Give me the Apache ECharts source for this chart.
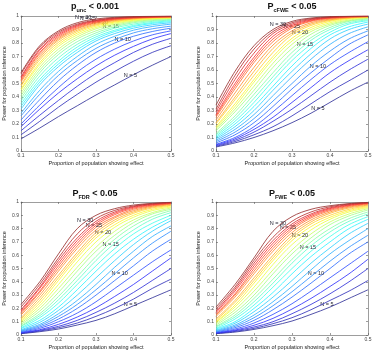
<!DOCTYPE html>
<html lang="en">
<head>
    <meta charset="UTF-8">
    <script src="https://cdn.jsdelivr.net/npm/echarts@6/dist/echarts.min.js"></script>
    <title>Power for population inference</title>
</head>
<style>
    body{
        margin: 0;
        padding: 0;
        background: #fff;
    }
</style>
<body>
<div id="chart" style="width: 379px;height:351px;"></div>
</body>
<script>
    // x positions (proportion of population showing effect)
    var xs = [0.1, 0.15, 0.2, 0.25, 0.3, 0.35, 0.4, 0.45, 0.5];
    var sampleSizes = [5, 6, 7, 8, 9, 10, 11, 12, 13, 14, 15, 16, 17, 18, 19, 20, 21, 22, 23, 24, 25, 26, 27, 28, 29, 30];

    // p_unc < 0.001, one row per N (5..30)
    var powerUnc = [
        [.09, .17, .255, .335, .415, .49, .565, .635, .70],
        [.12, .22, .325, .42, .51, .59, .665, .73, .78],
        [.15, .265, .375, .48, .575, .655, .73, .79, .835],
        [.18, .31, .43, .535, .63, .71, .775, .83, .87],
        [.20, .34, .47, .585, .68, .755, .815, .86, .89],
        [.23, .38, .52, .635, .73, .80, .85, .885, .91],
        [.26, .42, .56, .67, .76, .825, .875, .905, .925],
        [.28, .45, .59, .70, .79, .85, .895, .922, .94],
        [.31, .49, .625, .73, .815, .87, .91, .935, .95],
        [.33, .51, .645, .75, .83, .885, .922, .945, .958],
        [.35, .53, .665, .77, .845, .895, .93, .952, .965],
        [.37, .555, .69, .79, .86, .91, .94, .96, .97],
        [.39, .58, .715, .81, .875, .92, .95, .966, .975],
        [.41, .60, .735, .83, .89, .93, .957, .972, .98],
        [.43, .62, .755, .845, .905, .94, .963, .976, .983],
        [.45, .64, .775, .86, .915, .948, .968, .98, .986],
        [.46, .655, .79, .873, .925, .955, .973, .983, .988],
        [.48, .675, .805, .885, .933, .96, .977, .986, .99],
        [.49, .69, .82, .895, .94, .966, .98, .988, .992],
        [.51, .705, .83, .905, .947, .97, .983, .99, .993],
        [.52, .72, .84, .912, .952, .974, .985, .991, .994],
        [.53, .73, .85, .92, .957, .977, .987, .992, .995],
        [.54, .745, .86, .927, .962, .98, .989, .993, .996],
        [.55, .755, .87, .933, .966, .983, .991, .995, .997],
        [.57, .77, .88, .94, .97, .986, .993, .996, .998],
        [.58, .78, .89, .95, .978, .99, .995, .998, .999]
    ];

    // p_cFWE < 0.05
    var powerCfwe = [
        [.03, .06, .10, .15, .21, .28, .36, .44, .51],
        [.035, .07, .12, .18, .26, .35, .44, .52, .60],
        [.04, .08, .14, .22, .31, .41, .51, .60, .68],
        [.045, .09, .16, .25, .36, .47, .58, .67, .75],
        [.05, .10, .18, .29, .41, .53, .64, .73, .81],
        [.06, .12, .21, .33, .46, .58, .69, .79, .86],
        [.07, .14, .24, .37, .50, .63, .74, .83, .89],
        [.08, .16, .27, .41, .55, .68, .79, .87, .92],
        [.09, .18, .30, .45, .59, .72, .83, .90, .94],
        [.10, .20, .33, .48, .63, .76, .86, .92, .955],
        [.11, .22, .36, .52, .67, .79, .88, .94, .965],
        [.12, .24, .39, .55, .70, .82, .90, .95, .972],
        [.13, .26, .42, .58, .73, .84, .915, .96, .978],
        [.15, .29, .45, .62, .76, .865, .93, .965, .983],
        [.16, .31, .48, .65, .79, .885, .94, .97, .987],
        [.17, .33, .51, .68, .815, .90, .95, .977, .99],
        [.18, .35, .53, .70, .835, .915, .96, .982, .992],
        [.20, .38, .56, .73, .86, .93, .967, .985, .993],
        [.21, .40, .59, .76, .875, .94, .972, .987, .994],
        [.23, .43, .62, .785, .89, .95, .977, .99, .995],
        [.25, .46, .655, .81, .91, .96, .982, .992, .996],
        [.26, .48, .675, .83, .92, .965, .985, .994, .997],
        [.27, .50, .695, .85, .93, .97, .988, .995, .997],
        [.29, .53, .725, .87, .94, .975, .99, .996, .998],
        [.31, .56, .755, .885, .95, .98, .992, .997, .998],
        [.34, .59, .78, .90, .96, .985, .995, .998, .999]
    ];

    // p_FDR < 0.05
    var powerFdr = [
        [.01, .025, .045, .075, .11, .16, .22, .28, .34],
        [.012, .03, .055, .09, .14, .20, .27, .35, .42],
        [.015, .035, .065, .11, .17, .24, .32, .41, .50],
        [.018, .04, .08, .135, .205, .29, .38, .48, .58],
        [.02, .05, .10, .165, .25, .35, .45, .55, .64],
        [.025, .06, .12, .20, .30, .41, .52, .63, .72],
        [.03, .07, .14, .23, .34, .46, .58, .69, .78],
        [.035, .08, .16, .26, .38, .51, .63, .74, .82],
        [.04, .095, .185, .30, .43, .56, .68, .78, .86],
        [.05, .11, .21, .34, .48, .61, .72, .81, .88],
        [.055, .13, .24, .38, .52, .65, .76, .84, .90],
        [.065, .145, .265, .41, .56, .69, .79, .87, .92],
        [.07, .16, .29, .44, .59, .72, .82, .89, .935],
        [.08, .18, .32, .48, .63, .75, .845, .91, .945],
        [.09, .20, .35, .51, .66, .78, .865, .92, .955],
        [.10, .22, .38, .55, .70, .81, .885, .935, .962],
        [.11, .24, .41, .58, .73, .83, .90, .945, .97],
        [.12, .26, .43, .60, .75, .85, .915, .955, .975],
        [.13, .28, .45, .62, .77, .865, .925, .962, .98],
        [.15, .30, .48, .65, .79, .88, .935, .968, .984],
        [.16, .32, .50, .67, .81, .89, .945, .972, .987],
        [.17, .33, .52, .69, .825, .905, .953, .977, .99],
        [.18, .35, .54, .71, .84, .915, .96, .98, .992],
        [.19, .36, .56, .73, .855, .925, .965, .984, .994],
        [.21, .38, .58, .76, .875, .937, .97, .987, .996],
        [.23, .40, .61, .80, .90, .95, .977, .99, .998]
    ];

    // p_FWE < 0.05
    var powerFwe = [
        [.01, .022, .042, .07, .105, .155, .21, .275, .34],
        [.012, .027, .05, .085, .13, .19, .26, .33, .41],
        [.014, .032, .06, .10, .16, .23, .31, .40, .50],
        [.016, .037, .073, .125, .195, .275, .365, .46, .57],
        [.019, .045, .09, .155, .235, .33, .43, .53, .63],
        [.023, .055, .11, .19, .285, .39, .50, .61, .70],
        [.027, .065, .13, .22, .325, .44, .555, .66, .75],
        [.032, .075, .15, .25, .365, .49, .61, .71, .80],
        [.037, .088, .175, .285, .41, .54, .655, .76, .84],
        [.045, .10, .20, .32, .46, .59, .70, .80, .87],
        [.05, .12, .225, .36, .50, .63, .74, .83, .89],
        [.06, .135, .25, .39, .54, .67, .775, .855, .91],
        [.065, .15, .275, .42, .57, .70, .80, .875, .925],
        [.075, .17, .30, .46, .61, .73, .83, .895, .94],
        [.085, .19, .33, .49, .64, .76, .85, .91, .95],
        [.095, .21, .36, .53, .68, .79, .87, .925, .958],
        [.10, .225, .39, .56, .71, .815, .885, .935, .965],
        [.11, .245, .41, .58, .73, .835, .90, .945, .972],
        [.12, .26, .43, .60, .75, .85, .915, .955, .977],
        [.14, .285, .46, .63, .77, .865, .925, .962, .982],
        [.15, .30, .48, .65, .79, .88, .935, .968, .986],
        [.16, .31, .50, .67, .805, .89, .943, .973, .989],
        [.17, .33, .52, .69, .82, .90, .95, .977, .991],
        [.18, .345, .54, .71, .835, .91, .956, .981, .993],
        [.195, .36, .56, .735, .855, .925, .964, .985, .995],
        [.21, .38, .58, .78, .89, .945, .972, .988, .997]
    ];

    // where each "N = .." label sits: [point index, dx, dy] per labelled N
    var panels = [
        {title: '{m|p}{s|unc}{m| < 0.001}', values: powerUnc, grid: {left: 19, top: 16, width: 152, height: 135}, tx: 95, ty: 7,
            labelAt: {5: [6, -3, 1], 10: [5, 8, -4], 15: [5, -4, -4], 20: [4, 4, -5], 25: [4, -8, -4], 30: [3, 6, -5]}},
        {title: '{m|P}{s|cFWE}{m| < 0.05}', values: powerCfwe, grid: {left: 216, top: 16, width: 152, height: 135}, tx: 292, ty: 7,
            labelAt: {5: [5, 7, -5], 10: [5, 7, -6], 15: [5, -6, 0], 20: [4, 8, -8], 25: [4, 0, -2], 30: [3, 5, -5]}},
        {title: '{m|P}{s|FDR}{m| < 0.05}', values: powerFdr, grid: {left: 19, top: 202, width: 152, height: 134}, tx: 95, ty: 194,
            labelAt: {5: [6, -3, -1], 10: [5, 5, -7], 15: [5, -4, -4], 20: [4, 7, -9], 25: [4, -2, -2], 30: [3, 8, -8]}},
        {title: '{m|P}{s|FWE}{m| < 0.05}', values: powerFwe, grid: {left: 216, top: 202, width: 152, height: 134}, tx: 292, ty: 194,
            labelAt: {5: [6, -3, -3], 10: [5, 5, -10], 15: [5, -3, -4], 20: [4, 8, -9], 25: [4, -4, -2], 30: [3, 5, -8]}}
    ];

    var font = 'Liberation Sans, Arial, sans-serif';
    var axisColor = '#5a5a5a';

    // matlab style jet colormap, a little washed out like the thin lines in the figure
    function jet(t) {
        function c(v) { v = Math.max(0, Math.min(1, v)); return Math.round(255 * (v * 0.8 + 0.2)); }
        return 'rgb(' + c(Math.min(4 * t - 1.5, -4 * t + 4.5)) + ',' + c(Math.min(4 * t - 0.5, -4 * t + 3.5)) + ',' + c(Math.min(4 * t + 0.5, -4 * t + 2.5)) + ')';
    }

    var grids = [], xAxes = [], yAxes = [], series = [], graphics = [];

    panels.forEach(function (p, g) {
        grids.push(p.grid);
        var tick = {inside: true, length: 2, lineStyle: {color: axisColor, width: 0.6}};
        var line = {show: true, onZero: false, lineStyle: {color: axisColor, width: 0.6}};
        xAxes.push({
            gridIndex: g, type: 'value', min: 0.1, max: 0.5, interval: 0.1, position: 'bottom',
            axisLine: line, axisTick: tick, splitLine: {show: false},
            axisLabel: {fontSize: 5, color: '#444', margin: 2, fontFamily: font},
            name: 'Proportion of population showing effect', nameLocation: 'middle', nameGap: 9,
            nameTextStyle: {fontSize: 5.5, color: '#222', fontFamily: font}
        });
        xAxes.push({
            gridIndex: g, type: 'value', min: 0.1, max: 0.5, interval: 0.1, position: 'top',
            axisLine: line, axisTick: tick, splitLine: {show: false}, axisLabel: {show: false}
        });
        yAxes.push({
            gridIndex: g, type: 'value', min: 0, max: 1, interval: 0.1, position: 'left',
            axisLine: line, axisTick: tick, splitLine: {show: false},
            axisLabel: {fontSize: 5, color: '#444', margin: 2, fontFamily: font},
            name: 'Power for population inference', nameLocation: 'middle', nameGap: g % 2 ? 15 : 14,
            nameTextStyle: {fontSize: 5.5, color: '#222', fontFamily: font}
        });
        yAxes.push({
            gridIndex: g, type: 'value', min: 0, max: 1, interval: 0.1, position: 'right',
            axisLine: line, axisTick: tick, splitLine: {show: false}, axisLabel: {show: false}
        });

        sampleSizes.forEach(function (n, i) {
            var spot = p.labelAt[n];
            var data = xs.map(function (x, k) {
                var item = {value: [x, p.values[i][k]]};
                if (spot && spot[0] === k) {
                    item.label = {
                        show: true, position: 'inside', offset: [spot[1], spot[2]],
                        formatter: 'N = ' + n, fontSize: 5.5, color: '#1e1e2e', fontFamily: font
                    };
                }
                return item;
            });
            series.push({
                name: 'N = ' + n, type: 'line', xAxisIndex: 2 * g, yAxisIndex: 2 * g,
                data: data, smooth: 0.35, showSymbol: true, symbolSize: 0, symbol: 'circle',
                lineStyle: {width: 0.85, color: jet((n - 5) / 25)},
                itemStyle: {color: jet((n - 5) / 25)},
                emphasis: {disabled: true}, silent: true, z: 2 + i / 100
            });
        });

        graphics.push({
            type: 'text', x: p.tx, y: p.ty,
            style: {
                text: p.title, align: 'center', verticalAlign: 'middle',
                rich: {
                    m: {fontSize: 9, fontWeight: 'bold', fontFamily: font, fill: '#111', lineHeight: 12, verticalAlign: 'middle'},
                    s: {fontSize: 5.5, fontWeight: 'bold', fontFamily: font, fill: '#111', lineHeight: 12, verticalAlign: 'bottom'}
                }
            }
        });
    });

    var chart = echarts.init(document.getElementById('chart'));
    chart.setOption({
        animation: false,
        backgroundColor: '#fff',
        grid: grids,
        xAxis: xAxes,
        yAxis: yAxes,
        series: series,
        graphic: graphics
    });
</script>
</html>
